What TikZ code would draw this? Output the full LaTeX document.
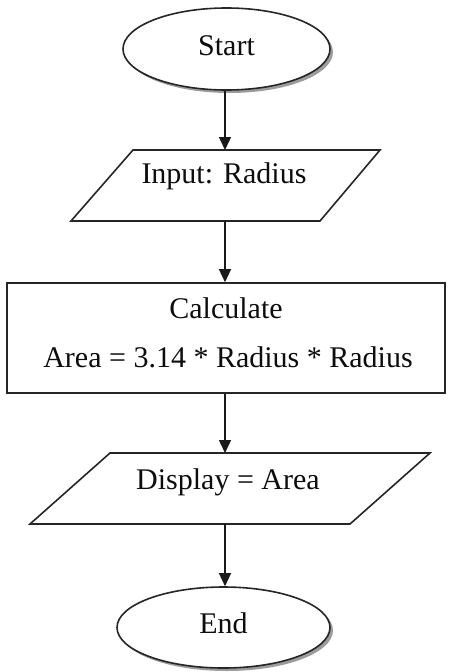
\documentclass[tikz,border=0pt]{standalone}
\usepackage{fontspec}
\setmainfont{Liberation Serif}
\usetikzlibrary{shapes.geometric,arrows.meta,shadows}
\begin{document}
\begin{tikzpicture}[x=1pt,y=-1pt,
  shapeline/.style={draw=black!85, line width=1.6pt, fill=white},
  term/.style={shapeline, ellipse, inner sep=0pt, drop shadow={shadow xshift=3pt, shadow yshift=-3pt, fill=black!55, opacity=0.7}},
  proc/.style={shapeline, rectangle, inner sep=0pt},
  txt/.style={font=\fontsize{30}{35}\selectfont, text=black!95, inner sep=0pt, anchor=base},
  flow/.style={draw=black!90, line width=1.4pt, -{Triangle[length=13pt,width=12pt]}}
]
\useasboundingbox (0,0) rectangle (448,672);
\fill[white] (0,0) rectangle (448,672);

\node[term, minimum width=207pt, minimum height=82pt] (start) at (226.5,49) {};
\node[txt] (starttxt) at (226.5,55) {Start};

% Input parallelogram
\draw[shapeline] (133,150) -- (380,150) -- (320,221) -- (71,221) -- cycle;
\coordinate (intop) at (225,150);
\coordinate (inbot) at (225,221);
\node[txt] (intxt) at (224,183) {Input: Radius};

\node[proc, minimum width=438pt, minimum height=110pt] (calc) at (226,338) {};
\node[txt] (calctxt1) at (226,318) {Calculate};
\node[txt] (calctxt2) at (228,367) {Area = 3.14 * Radius * Radius};

% Display parallelogram
\draw[shapeline] (110,453) -- (430,453) -- (350,524) -- (30,524) -- cycle;
\coordinate (disptop) at (225,453);
\coordinate (dispbot) at (225,524);
\node[txt] (disptxt) at (228,489) {Display = Area};

\node[term, minimum width=213pt, minimum height=81pt] (end) at (223.5,627.5) {};
\node[txt] (endtxt) at (223.5,633) {End};

\draw[flow] (intop |- start.south) -- (intop);
\draw[flow] (inbot) -- (inbot |- calc.north);
\draw[flow] (disptop |- calc.south) -- (disptop);
\draw[flow] (dispbot) -- (dispbot |- end.north);
\end{tikzpicture}
\end{document}
